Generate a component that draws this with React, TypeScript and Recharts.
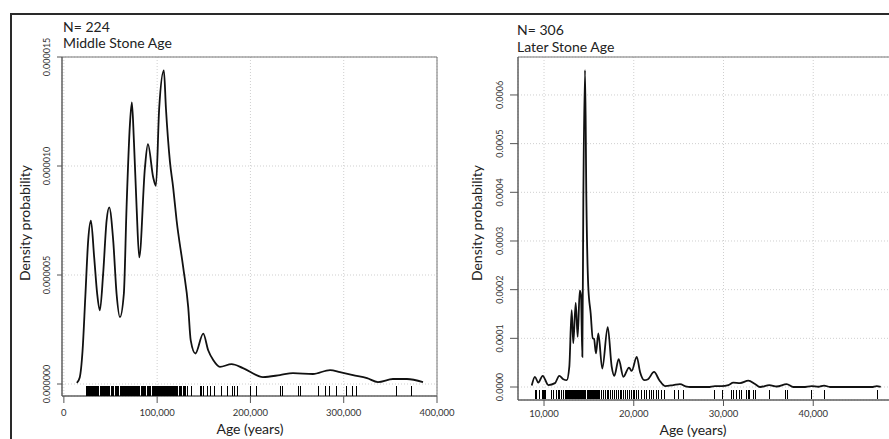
import React from 'react';
import {
  ComposedChart, Line, Scatter, XAxis, YAxis, CartesianGrid, ReferenceArea,
} from 'recharts';

// ---------- Middle Stone Age (left panel) ----------
const msaAge = [
  13900, 17000, 20000, 23000, 26100, 29000, 32500, 35700, 38600, 42100, 45800, 48600,
  52900, 56500, 60100, 64300, 67200, 70800, 72900, 75100, 78000, 80800, 86900, 90100,
  95800, 98700, 102200, 107200, 109400, 113700, 117200, 120900, 127900, 133300, 136000,
  141000, 149400, 154700, 160100, 167300, 179800, 192000, 213400, 231600, 245600, 267000,
  285300, 296000, 310000, 325000, 336700, 352800, 367800, 385000,
];
const msaDensity = [
  0.05e-6, 0.3e-6, 1.5e-6, 4.0e-6, 6.6e-6, 7.49e-6, 5.81e-6, 4.14e-6, 3.38e-6, 5.05e-6, 7.49e-6, 8.1e-6,
  6.58e-6, 4.14e-6, 3.07e-6, 4.14e-6, 8.1e-6, 11.9e-6, 12.92e-6, 11.14e-6, 8.08e-6, 5.81e-6, 9.92e-6, 11.0e-6,
  9.47e-6, 9.09e-6, 12.66e-6, 14.38e-6, 12.66e-6, 10.2e-6, 9.0e-6, 7.49e-6, 5.36e-6, 3.53e-6, 2.0e-6,
  1.4e-6, 2.31e-6, 1.55e-6, 1.1e-6, 0.79e-6, 0.91e-6, 0.73e-6, 0.32e-6, 0.41e-6, 0.5e-6, 0.46e-6,
  0.64e-6, 0.55e-6, 0.41e-6, 0.27e-6, 0.09e-6, 0.23e-6, 0.23e-6, 0.09e-6,
];
const msaRug = [
  24300, 24700, 25100, 25800, 26400, 27000, 27600, 28200, 28900, 29500, 30100, 30700, 31300, 32000,
  32800, 33600, 34400, 35200, 36100, 37000, 38900, 40300, 41500, 42600, 43800, 44600, 45500, 46200,
  47000, 47900, 49000, 50600, 52100, 53300, 55000, 56200, 57400, 59100, 60300, 61800, 63000, 63600,
  64100, 64600, 65000, 65400, 65800, 66300, 66700, 67100, 67500, 68000, 68400, 68900, 69300, 69700,
  70000, 70500, 70900, 71400, 71800, 72200, 72600, 73100, 73500, 73900, 74300, 74800, 75200, 75700,
  76100, 76600, 77000, 77800, 79200, 80500, 81600, 83000, 84100, 85500, 86800, 88000, 89400, 90600,
  91900, 93200, 94500, 95600, 96800, 97700, 98600, 99000, 99400, 99800, 100200, 100600, 101000,
  101400, 101800, 102300, 102700, 103100, 103500, 104000, 104400, 104800, 105200, 105700, 106100,
  106600, 107000, 107400, 107800, 108200, 108600, 109100, 109500, 110000, 110400, 110800, 111200,
  111700, 112100, 112600, 113000, 113500, 113900, 114400, 114800, 115200, 115600, 116000, 116500,
  117000, 117500, 118000, 118600, 119200, 119700, 120200, 120800, 122300, 123700, 125000, 126600,
  128100, 129400, 130800, 132000,
  137000, 146000, 148000, 150000, 154000, 157000, 161000, 169000, 175000, 181000, 183000, 186000,
  200000, 207000, 232000, 234000, 252000, 254000, 273000, 280000, 285000, 292000, 303000, 309000,
  314000, 357000, 373000,
];
const msaXTicks = [0, 100000, 200000, 300000, 400000];
const msaYTicks = [0, 0.000005, 0.00001, 0.000015];

// ---------- Later Stone Age (right panel) ----------
const lsaAge = [
  8630, 8990, 9360, 9850, 10480, 11220, 11700, 12150, 12530, 12820, 13080, 13260, 13530, 13750,
  13980, 14120, 14270, 14380, 14570, 14720, 14930, 15200, 15430, 15570, 15790, 16050, 16490,
  17100, 17540, 17830, 18320, 18840, 19470, 19770, 20330, 20700, 21180, 21590, 22260, 22850,
  23480, 24410, 25150, 25900, 26270, 28270, 29050, 29800, 30540, 31090, 31840, 32770, 33510,
  34070, 35110, 35930, 37040, 37780, 38890, 39830, 40570, 41200, 41870, 46520, 47070, 47520,
];
const lsaDensity = [
  0.03e-4, 0.21e-4, 0.09e-4, 0.23e-4, 0.04e-4, 0.08e-4, 0.23e-4, 0.16e-4, 0.14e-4, 0.42e-4, 1.58e-4,
  0.9e-4, 1.73e-4, 1.03e-4, 1.98e-4, 1.89e-4, 0.62e-4, 3.84e-4, 6.51e-4, 3.84e-4, 2.07e-4, 1.51e-4,
  1.0e-4, 0.99e-4, 0.69e-4, 1.1e-4, 0.38e-4, 1.23e-4, 0.42e-4, 0.23e-4, 0.57e-4, 0.21e-4, 0.4e-4,
  0.33e-4, 0.62e-4, 0.31e-4, 0.14e-4, 0.16e-4, 0.31e-4, 0.14e-4, 0.02e-4, 0.04e-4, 0.06e-4, 0.006e-4,
  0, 0, 0.02e-4, 0.02e-4, 0.04e-4, 0.09e-4, 0.08e-4, 0.13e-4, 0.06e-4, 0, 0.04e-4, 0.01e-4, 0.06e-4,
  0, 0, 0.02e-4, 0.005e-4, 0.03e-4, 0, 0, 0.02e-4, 0.005e-4,
];
const lsaRug = [
  9000, 9180, 9470, 9850, 9960, 10080, 10190, 10860, 11030, 11410, 11590, 11780, 11970, 12150, 12340,
  12530, 12650, 12760, 12840, 12950, 13040, 13130, 13250, 13330, 13420, 13540, 13620, 13710, 13830,
  13920, 14010, 14100, 14220, 14310, 14390, 14500, 14580, 14670, 14790, 14880, 14960, 15070, 15160,
  15250, 15360, 15450, 15540, 15660, 15750, 15860, 15980, 16100, 16220, 16400, 16620, 16800, 17030,
  17210, 17450, 17640, 17880, 18050, 18270, 18490, 18660, 18900, 19080, 19310, 19500, 19720, 19930,
  20120, 20340, 20560, 20880, 21150, 21420, 21700, 21980, 22250, 22540, 22800, 23100, 23420, 24490,
  24930, 25520, 29050, 29910, 30920, 31170, 31470, 31770, 32030, 32590, 32770, 32950, 33320, 33620,
  35180, 36860, 37110, 39830, 41230, 47140,
];
const lsaXTicks = [10000, 20000, 30000, 40000];
const lsaYTicks = [0, 0.0001, 0.0002, 0.0003, 0.0004, 0.0005, 0.0006];

// ---------- text ----------
const msaTitle = ['N= 224', 'Middle Stone Age'];
const lsaTitle = ['N= 306', 'Later Stone Age'];
const yTitle = 'Density probability';
const xTitle = 'Age (years)';

// ---------- styles ----------
const FONT = 'Lato, "Open Sans", sans-serif';
const TEXT = '#222';
const AXIS = '#555';
const GRID = '#cfcfcf';

const msaLine = msaAge.map((x, i) => ({ x, y: msaDensity[i] }));
const lsaLine = lsaAge.map((x, i) => ({ x, y: lsaDensity[i] }));
const MSA_RUG_Y = -0.344e-6;
const LSA_RUG_Y = -0.154e-4;
const msaRugData = msaRug.map((x) => ({ x, y: MSA_RUG_Y }));
const lsaRugData = lsaRug.map((x) => ({ x, y: LSA_RUG_Y }));

const fmtX = (v: number) => v.toLocaleString('en-US');

const makeVTick = (digits: number, dx: number) => (props: any) => {
  const { x, y, payload } = props;
  const bx = x - dx;
  return (
    <text
      x={bx}
      y={y}
      transform={`rotate(-90 ${bx} ${y})`}
      textAnchor="middle"
      fontSize={9}
      fill="#333"
      fontFamily={FONT}
    >
      {Number(payload.value).toFixed(digits)}
    </text>
  );
};

const rugShape = (half: number) => (props: any) => {
  const { cx, cy } = props;
  return (
    <line
      x1={cx} x2={cx} y1={cy - half} y2={cy + half}
      stroke="#000" strokeWidth={1} shapeRendering="crispEdges"
    />
  );
};

const MSA_X: [number, number] = [-2000, 400000];
const MSA_Y: [number, number] = [-0.55e-6, 15e-6];
const LSA_X: [number, number] = [7100, 49000];
const LSA_Y: [number, number] = [-0.267e-4, 6.78e-4];

export default function App() {
  return (
    <div style={{ position: 'absolute', left: 0, top: 0, width: 889, height: 439, overflow: 'hidden', background: '#fff' }}>
      <div style={{ position: 'absolute', left: 10, top: 13, width: 950, height: 500, borderTop: '2px solid #2a2a2a', borderLeft: '2px solid #2a2a2a' }} />

      <div style={{ position: 'absolute', left: 0, top: 0 }}>
        <ComposedChart width={480} height={439} margin={{ top: 57, right: 43, bottom: 0, left: 0 }}>
          <CartesianGrid stroke={GRID} strokeDasharray="1 2" />
          <XAxis
            type="number" dataKey="x" domain={MSA_X} ticks={msaXTicks} allowDataOverflow
            tickFormatter={fmtX} height={43} tickSize={7} tickMargin={6}
            stroke={AXIS} tick={{ fontSize: 9.5, fill: '#333', fontFamily: FONT }}
          />
          <YAxis
            type="number" domain={MSA_Y} ticks={msaYTicks} allowDataOverflow width={62}
            tickSize={5} tickMargin={0} stroke={AXIS} tick={makeVTick(6, 7)}
          />
          <ReferenceArea x1={MSA_X[0]} x2={MSA_X[1]} y1={MSA_Y[0]} y2={MSA_Y[1]} fill="none" stroke="#777" ifOverflow="visible" />
          <Scatter data={msaRugData} dataKey="y" shape={rugShape(5.5)} isAnimationActive={false} />
          <Line data={msaLine} dataKey="y" type="monotone" stroke="#111" strokeWidth={1.8} dot={false} isAnimationActive={false} />
        </ComposedChart>
      </div>

      <div style={{ position: 'absolute', left: 450, top: 0 }}>
        <ComposedChart width={450} height={439} margin={{ top: 57, right: 6, bottom: 0, left: 0 }}>
          <CartesianGrid stroke={GRID} strokeDasharray="1 2" />
          <XAxis
            type="number" dataKey="x" domain={LSA_X} ticks={lsaXTicks} allowDataOverflow
            tickFormatter={fmtX} height={39} tickSize={6} tickMargin={4}
            stroke={AXIS} tick={{ fontSize: 9.5, fill: '#333', fontFamily: FONT }}
          />
          <YAxis
            type="number" domain={LSA_Y} ticks={lsaYTicks} allowDataOverflow width={68}
            tickSize={8} tickMargin={0} stroke={AXIS} tick={makeVTick(4, 7)}
          />
          <ReferenceArea x1={LSA_X[0]} x2={LSA_X[1]} y1={LSA_Y[0]} y2={LSA_Y[1]} fill="none" stroke="#777" ifOverflow="visible" />
          <Scatter data={lsaRugData} dataKey="y" shape={rugShape(4.5)} isAnimationActive={false} />
          <Line data={lsaLine} dataKey="y" type="monotone" stroke="#111" strokeWidth={1.8} dot={false} isAnimationActive={false} />
        </ComposedChart>
      </div>

      <svg width={889} height={439} style={{ position: 'absolute', left: 0, top: 0, pointerEvents: 'none' }}>
        <g fontFamily={FONT} fill={TEXT} fontSize={14}>
          <text x={63} y={32}>{msaTitle[0]}</text>
          <text x={63} y={48}>{msaTitle[1]}</text>
          <text x={517} y={35}>{lsaTitle[0]}</text>
          <text x={517} y={52}>{lsaTitle[1]}</text>
          <text x={30} y={223} textAnchor="middle" transform="rotate(-90 30 223)">{yTitle}</text>
          <text x={482} y={223} textAnchor="middle" transform="rotate(-90 482 223)">{yTitle}</text>
          <text x={250} y={434} textAnchor="middle">{xTitle}</text>
          <text x={693} y={435} textAnchor="middle">{xTitle}</text>
        </g>
      </svg>
    </div>
  );
}
